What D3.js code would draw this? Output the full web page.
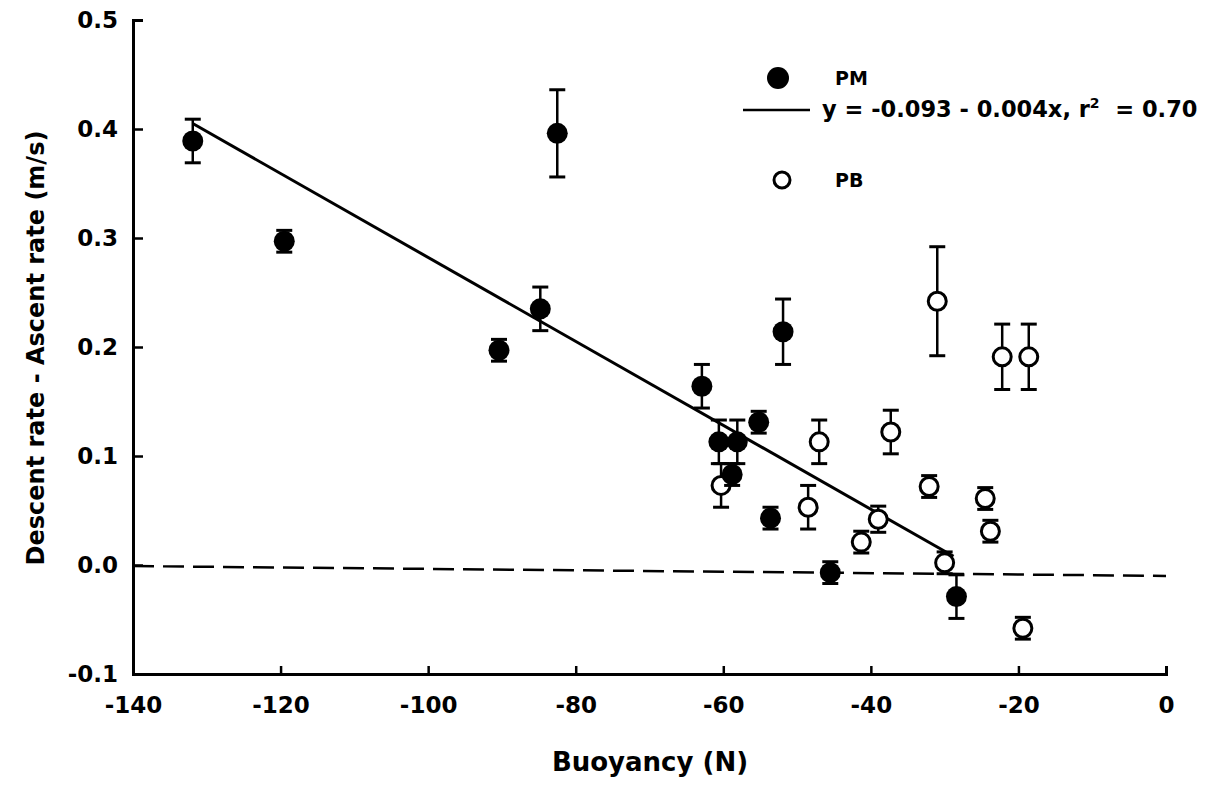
<!DOCTYPE html>
<html>
<head>
<meta charset="utf-8">
<script src="https://cdn.jsdelivr.net/npm/d3@7/dist/d3.min.js"></script>
<style>
  html, body { margin: 0; padding: 0; background: #fff; }
  svg { display: block; }
  text { font-family: "DejaVu Sans", "Liberation Sans", Arial, sans-serif; font-weight: bold; fill: #000; }
</style>
</head>
<body>
<svg id="chart" width="1223" height="785"></svg>
<script>
// ---- data ----
const pmX   = [-131.9, -119.5, -90.4, -84.8, -82.5, -62.9, -60.6, -58.8, -58.1, -55.2, -53.6, -51.9, -45.5, -28.4];
const pmY   = [0.389, 0.297, 0.197, 0.235, 0.396, 0.164, 0.113, 0.083, 0.113, 0.131, 0.043, 0.214, -0.007, -0.029];
const pmErr = [0.02, 0.01, 0.01, 0.02, 0.04, 0.02, 0.02, 0.01, 0.02, 0.01, 0.01, 0.03, 0.01, 0.02];

const pbX   = [-60.3, -48.5, -47.0, -41.3, -39.0, -37.3, -32.1, -31.0, -30.0, -24.5, -23.8, -22.2, -19.4, -18.6];
const pbY   = [0.073, 0.053, 0.113, 0.021, 0.042, 0.122, 0.072, 0.242, 0.002, 0.061, 0.031, 0.191, -0.058, 0.191];
const pbErr = [0.02, 0.02, 0.02, 0.01, 0.012, 0.02, 0.01, 0.05, 0.01, 0.01, 0.01, 0.03, 0.01, 0.03];

// regression line (PM) endpoints as drawn
const fitX = [-131.9, -28.8];
const fitY = [0.405, 0.008];

// zero reference line as drawn
const zeroX = [-140, 0];
const zeroY = [-0.001, -0.010];

const xTicks = [-140, -120, -100, -80, -60, -40, -20, 0];
const yTicks = [-0.1, 0.0, 0.1, 0.2, 0.3, 0.4, 0.5];

const xTitle = "Buoyancy (N)";
const yTitle = "Descent rate - Ascent rate (m/s)";
const legendPM = "PM";
const legendPB = "PB";
const eqMain = "y = -0.093 - 0.004x, r";
const eqSup = "2";
const eqTail = "  = 0.70";

// ---- drawing ----
const svg = d3.select("#chart");
const x = d3.scaleLinear().domain([-140, 0]).range([133, 1166]);
const y = d3.scaleLinear().domain([-0.1, 0.5]).range([674, 20]);

// axes
const gx = svg.append("g").attr("transform", `translate(0,${y(-0.1)})`)
  .call(d3.axisBottom(x).tickValues(xTicks).tickFormat(d3.format("d"))
    .tickSizeInner(-8).tickSizeOuter(-8).tickPadding(23));
const gy = svg.append("g").attr("transform", `translate(${x(-140)},0)`)
  .call(d3.axisLeft(y).tickValues(yTicks).tickFormat(d3.format(".1f"))
    .tickSizeInner(-10).tickSizeOuter(-10).tickPadding(15));

[gx, gy].forEach(g => {
  g.select(".domain").attr("stroke", "#000").attr("stroke-width", 3);
  g.selectAll(".tick line").attr("stroke", "#000").attr("stroke-width", 2.5);
  g.selectAll(".tick text").attr("font-size", 23).attr("font-family", null).attr("fill", "#000");
});
gx.selectAll(".tick text").text(d => d3.format("d")(d).replace("−", "-"));
gy.selectAll(".tick text").text(d => d3.format(".1f")(d).replace("−", "-"));

// titles
svg.append("text").attr("x", 650).attr("y", 771).attr("text-anchor", "middle")
  .attr("font-size", 26).text(xTitle);
svg.append("text").attr("transform", `translate(44,348) rotate(-90)`).attr("text-anchor", "middle")
  .attr("font-size", 24).text(yTitle);

// zero dashed line
svg.append("line")
  .attr("x1", x(zeroX[0])).attr("y1", y(zeroY[0]))
  .attr("x2", x(zeroX[1])).attr("y2", y(zeroY[1]))
  .attr("stroke", "#000").attr("stroke-width", 2.5).attr("stroke-dasharray", "21,9");

// regression line
svg.append("line")
  .attr("x1", x(fitX[0])).attr("y1", y(fitY[0]))
  .attr("x2", x(fitX[1])).attr("y2", y(fitY[1]))
  .attr("stroke", "#000").attr("stroke-width", 3);

function drawSeries(xs, ys, es, filled) {
  const data = xs.map((v, i) => ({ x: v, y: ys[i], e: es[i] }));
  const g = svg.append("g");
  const items = g.selectAll("g.pt").data(data).join("g").attr("class", "pt");
  items.append("line")
    .attr("x1", d => x(d.x)).attr("x2", d => x(d.x))
    .attr("y1", d => y(d.y + d.e)).attr("y2", d => y(d.y - d.e))
    .attr("stroke", "#000").attr("stroke-width", 2.5);
  items.append("line")
    .attr("x1", d => x(d.x) - 8).attr("x2", d => x(d.x) + 8)
    .attr("y1", d => y(d.y + d.e)).attr("y2", d => y(d.y + d.e))
    .attr("stroke", "#000").attr("stroke-width", 3);
  items.append("line")
    .attr("x1", d => x(d.x) - 8).attr("x2", d => x(d.x) + 8)
    .attr("y1", d => y(d.y - d.e)).attr("y2", d => y(d.y - d.e))
    .attr("stroke", "#000").attr("stroke-width", 3);
  items.append("circle")
    .attr("cx", d => x(d.x)).attr("cy", d => y(d.y))
    .attr("r", filled ? 10.5 : 9)
    .attr("fill", filled ? "#000" : "#fff")
    .attr("stroke", "#000").attr("stroke-width", filled ? 0 : 3);
}
drawSeries(pbX, pbY, pbErr, false);
drawSeries(pmX, pmY, pmErr, true);

// legend
const lg = svg.append("g");
lg.append("circle").attr("cx", 778).attr("cy", 78).attr("r", 11).attr("fill", "#000");
lg.append("text").attr("x", 835).attr("y", 85).attr("font-size", 19).text(legendPM);
lg.append("line").attr("x1", 743).attr("x2", 810).attr("y1", 110).attr("y2", 110)
  .attr("stroke", "#000").attr("stroke-width", 2.5);
const eq = lg.append("text").attr("x", 822).attr("y", 117).attr("font-size", 22.5).attr("xml:space", "preserve");
eq.append("tspan").text(eqMain);
eq.append("tspan").attr("font-size", 14).attr("dy", -9).text(eqSup);
eq.append("tspan").attr("dy", 9).text(eqTail);
lg.append("circle").attr("cx", 782).attr("cy", 180).attr("r", 8).attr("fill", "#fff")
  .attr("stroke", "#000").attr("stroke-width", 3);
lg.append("text").attr("x", 835).attr("y", 187).attr("font-size", 19).text(legendPB);
</script>
</body>
</html>
